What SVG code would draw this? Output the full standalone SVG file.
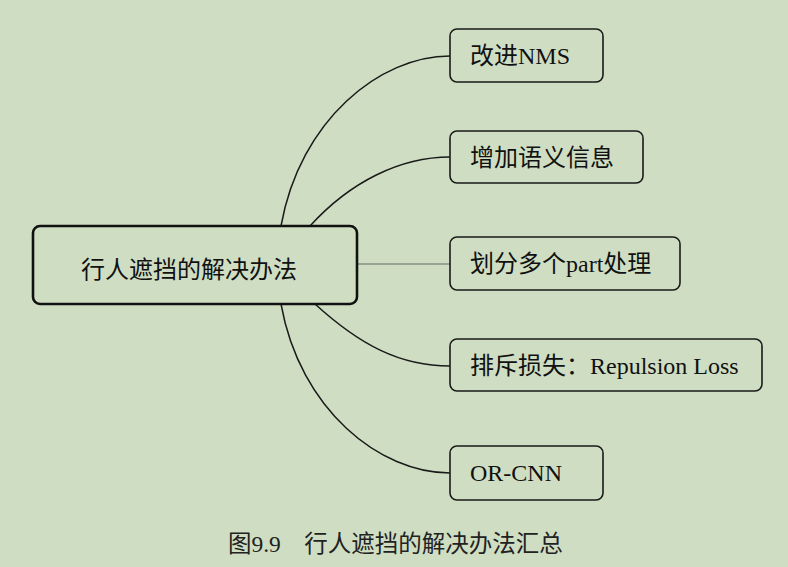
<svg xmlns="http://www.w3.org/2000/svg" width="788" height="567" viewBox="0 0 788 567">
<style>
.bg{fill:#cfdec3}
.box{fill:#cfdec3;stroke:#1a1a1a;stroke-width:1.6}
.main{fill:#cfdec3;stroke:#111;stroke-width:2.6}
.t{font-family:"Liberation Serif","Noto Sans CJK SC",serif;font-size:24px;fill:#111}
.c{fill:none;stroke:#1a1a1a;stroke-width:1.5}
.cap{font-family:"Liberation Serif","Noto Sans CJK SC",serif;font-size:23.5px;fill:#222}
</style>
<rect class="bg" x="0" y="0" width="788" height="567"/>
<g id="connectors">
<path class="c" d="M281,226 C300,120 380,56 450,56"/>
<path class="c" d="M310,226 C350,182 400,157 450,157"/>
<path class="c" d="M357,264 L450,264" style="stroke:#666;stroke-width:1.2"/>
<path class="c" d="M315,304 C360,345 400,366 450,366"/>
<path class="c" d="M281,304 C300,410 380,473 450,473"/>
</g>
<g id="center">
<rect class="main" x="33" y="226" width="324" height="78" rx="7"/>
<text class="t" x="189" y="278" text-anchor="middle">行人遮挡的解决办法</text>
</g>
<g id="n1">
<rect class="box" x="450" y="29" width="153" height="53" rx="7"/>
<text class="t" x="470" y="64">改进NMS</text>
</g>
<g id="n2">
<rect class="box" x="450" y="131" width="193" height="52" rx="7"/>
<text class="t" x="470" y="166">增加语义信息</text>
</g>
<g id="n3">
<rect class="box" x="450" y="237" width="230" height="53" rx="7"/>
<text class="t" x="470" y="272">划分多个part处理</text>
</g>
<g id="n4">
<rect class="box" x="450" y="339" width="312" height="52" rx="7"/>
<text class="t" x="470" y="374">排斥损失：Repulsion Loss</text>
</g>
<g id="n5">
<rect class="box" x="450" y="446" width="153" height="54" rx="7"/>
<text class="t" x="470" y="481">OR-CNN</text>
</g>
<text class="cap" x="228" y="552">图9.9　行人遮挡的解决办法汇总</text>
</svg>
